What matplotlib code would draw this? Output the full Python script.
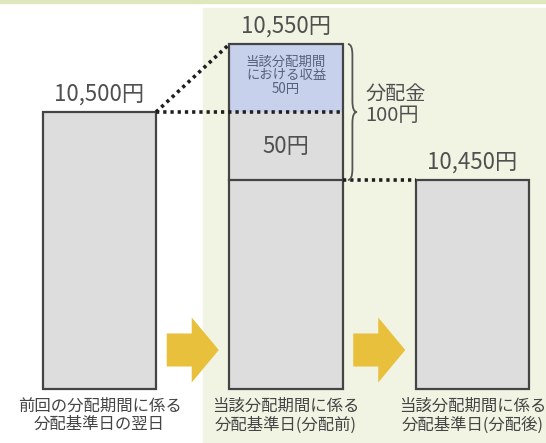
import matplotlib
matplotlib.use("Agg")
import matplotlib.pyplot as plt
from matplotlib.patches import Rectangle, FancyArrow, PathPatch
from matplotlib.path import Path

plt.rcParams['font.family'] = ['Noto Sans CJK JP', 'DejaVu Sans']

# data
labels = ["前回の分配期間に係る\n分配基準日の翌日",
          "当該分配期間に係る\n分配基準日(分配前)",
          "当該分配期間に係る\n分配基準日(分配後)"]
nav = [10500, 10550, 10450]          # 基準価額
income = 50                          # 当該分配期間における収益
distribution = 100                   # 分配金
value_labels = ["10,500円", "10,550円", "10,450円"]

# schematic baseline of the bars (not zero)
base = 10296

gray = "#dddddd"
blue = "#c7d1ec"
edge = "#444444"
txt = "#505050"
yellow = "#e8c03c"

fig = plt.figure(figsize=(5.46, 4.43), dpi=100)
ax = fig.add_axes([0, 0, 1, 1])
ax.set_xlim(-0.5335, 2.394)
ax.set_ylim(10256.6, 10582.4)
ax.axis("off")

# backgrounds
ax.add_patch(Rectangle((203 / 546, 0), 1, 1 - 8 / 443, transform=ax.transAxes,
                       color="#f1f4e3", zorder=0))
ax.add_patch(Rectangle((0, 1 - 3 / 443), 1, 3 / 443, transform=ax.transAxes,
                       color="#dde8bd", zorder=0))

w = 0.606
x = [0, 1, 2]
after = nav[1] - distribution

# bar 1 and 3
for i in (0, 2):
    ax.bar(x[i], nav[i] - base, bottom=base, width=w, color=gray,
           edgecolor=edge, linewidth=1.6, zorder=2)

# bar 2 stacked
ax.bar(x[1], after - base, bottom=base, width=w, color=gray, linewidth=0, zorder=2)
ax.bar(x[1], nav[0] - after, bottom=after, width=w, color=gray, linewidth=0, zorder=2)
ax.bar(x[1], income, bottom=nav[0], width=w, color=blue, linewidth=0, zorder=2)
ax.bar(x[1], nav[1] - base, bottom=base, width=w, color="none",
       edgecolor=edge, linewidth=1.6, zorder=4)
ax.plot([x[1] - w / 2, x[1] + w / 2], [after, after], color=edge, lw=1.6, zorder=4)

# dotted guide lines
dots = dict(color="#1e1e1e", lw=2.6, linestyle=(0, (0.9, 1.1)), zorder=5)
ax.plot([x[0] + w / 2, x[1] - w / 2], [nav[0], nav[1]], **dots)
ax.plot([x[0] + w / 2, x[1] + w / 2], [nav[0], nav[0]], **dots)
ax.plot([x[1] + w / 2, x[2] - w / 2], [nav[2], nav[2]], **dots)

# value labels
for i in range(3):
    ax.annotate(value_labels[i], (x[i], nav[i]), xytext=(0, 4.5), textcoords="offset points",
                ha="center", va="bottom", fontsize=16, color=txt)

# bottom labels
for i in range(3):
    ax.annotate(labels[i], (x[i], base), xytext=(0, -6), textcoords="offset points",
                ha="center", va="top", fontsize=11.8, color="#444444", linespacing=1.12)

# text inside bar 2
ax.text(x[1], nav[0] + income / 2 + 2, "当該分配期間\nにおける収益\n%d円" % income,
        ha="center", va="center", fontsize=9.6, color="#55607a", linespacing=1.0, zorder=6)
ax.text(x[1], (after + nav[0]) / 2, "%d円" % (nav[0] - after),
        ha="center", va="center", fontsize=16, color=txt, zorder=6)

# brace for 分配金
bx = 1.332
bw = 0.048
y0, y1 = after, nav[1]
ym = (y0 + y1) / 2
h = y1 - y0
xm = bx + bw / 2
xt = bx + bw
verts = [(bx, y1), (xm, y1), (xm, y1 - 0.08 * h), (xm, ym + 0.08 * h),
         (xm, ym), (xt, ym), (xm, ym), (xm, ym - 0.08 * h),
         (xm, y0 + 0.08 * h), (xm, y0), (bx, y0)]
codes = [Path.MOVETO, Path.CURVE3, Path.CURVE3, Path.LINETO,
         Path.CURVE3, Path.CURVE3, Path.CURVE3, Path.CURVE3,
         Path.LINETO, Path.CURVE3, Path.CURVE3]
ax.add_patch(PathPatch(Path(verts, codes), facecolor="none", edgecolor="#555555", lw=1.3, zorder=5))
ax.annotate("分配金\n%d円" % distribution, (xt, ym), xytext=(6, 5), textcoords="offset points",
            ha="left", va="center", fontsize=14.5, color=txt, linespacing=1.0)

# arrows between the bars
alen = 0.279
for i in range(2):
    ax.add_patch(FancyArrow(i + 0.5 - alen / 2, 10325, alen, 0, width=24.3,
                            head_width=47.8, head_length=0.145,
                            length_includes_head=True, color=yellow, lw=0, zorder=3))

fig.savefig("out.png", dpi=100)
